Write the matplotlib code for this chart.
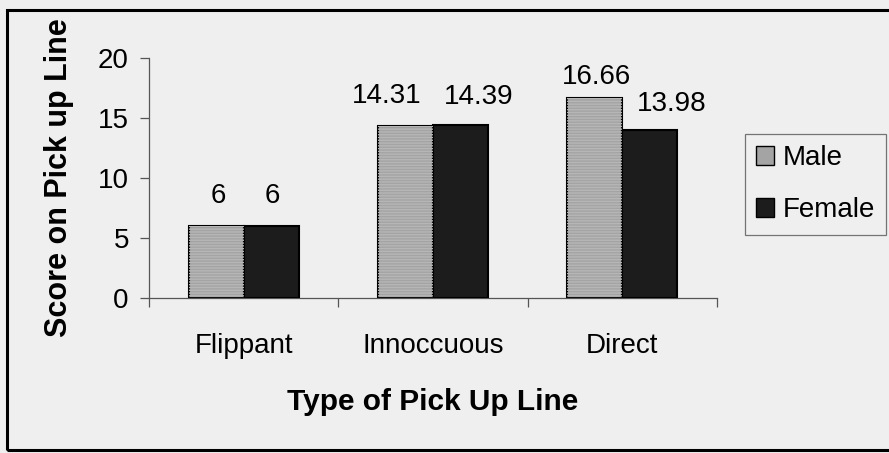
import matplotlib
matplotlib.use("Agg")
import matplotlib.pyplot as plt
from matplotlib.patches import Rectangle, Patch
import numpy as np

plt.rcParams['font.family'] = ['Liberation Sans', 'DejaVu Sans']

categories = ["Flippant", "Innoccuous", "Direct"]
series_names = ["Male", "Female"]
male = [6, 14.31, 16.66]
female = [6, 14.39, 13.98]
male_labels = ["6", "14.31", "16.66"]
female_labels = ["6", "14.39", "13.98"]
y_ticks = [0, 5, 10, 15, 20]

W, H = 889, 453
fig = plt.figure(figsize=(W / 100, H / 100), dpi=100)
bg = '#efefef'
fig.patch.set_facecolor(bg)

# outer frame
fig.patches.append(Rectangle((7 / W, 3 / H), 1.2, 440 / H, transform=fig.transFigure,
                             fill=False, edgecolor='black', linewidth=2.2, zorder=0))

ax = fig.add_axes([149 / W, 155 / H, (717 - 149) / W, (395 - 155) / H])
ax.set_facecolor(bg)

FS = 20
x = np.arange(len(categories))
bw = 0.29
male_c = '#a4a4a4'
fem_c = '#1c1c1c'
ax.bar(x - bw / 2, male, bw, color=male_c, edgecolor='black', linewidth=1.5, zorder=3)
ax.bar(x - bw / 2, male, bw, color='none', edgecolor='#b6b6b6', linewidth=0, hatch='------', zorder=3.5)
ax.bar(x + bw / 2, female, bw, color=fem_c, edgecolor='black', linewidth=1.5, zorder=3)

# value labels (pixel offsets as placed in the original)
male_off = [(2, 23), (-19, 23), (2, 14)]
female_off = [(1, 23), (18, 21), (22, 19)]
px = 0.72
for i in range(len(categories)):
    ax.annotate(male_labels[i], (x[i] - bw / 2, male[i]),
                xytext=(male_off[i][0] * px, male_off[i][1] * px),
                textcoords='offset points', ha='center', va='baseline', fontsize=FS)
    ax.annotate(female_labels[i], (x[i] + bw / 2, female[i]),
                xytext=(female_off[i][0] * px, female_off[i][1] * px),
                textcoords='offset points', ha='center', va='baseline', fontsize=FS)

ax.set_ylim(0, 20)
ax.set_xlim(-0.5, len(categories) - 0.5)
ax.set_yticks(y_ticks)
ax.set_yticklabels([str(t) for t in y_ticks], fontsize=FS)
ax.tick_params(axis='y', length=6.5, width=0.9, color='#555555', pad=8)

ax.set_xticks(x)
ax.set_xticklabels(categories, fontsize=FS)
ax.tick_params(axis='x', length=0, pad=25)
ax.set_xticks(np.arange(len(categories) + 1) - 0.5, minor=True)
ax.tick_params(axis='x', which='minor', length=6.5, width=0.9, color='#555555')

for s in ['top', 'right']:
    ax.spines[s].set_visible(False)
for s in ['left', 'bottom']:
    ax.spines[s].set_color('#555555')
    ax.spines[s].set_linewidth(0.9)

ax.set_ylabel("Score on Pick up Line", fontsize=22, fontweight='bold', labelpad=17)
ax.set_xlabel("Type of Pick Up Line", fontsize=21.5, fontweight='bold', labelpad=21)

handles = [Patch(facecolor=male_c, edgecolor='black', linewidth=1.0),
           Patch(facecolor=fem_c, edgecolor='black', linewidth=1.0)]
leg = fig.legend(handles, series_names, loc='upper left', bbox_to_anchor=(745 / W, 1 - 134 / H),
                 fontsize=FS, frameon=True, fancybox=False, edgecolor='#555555',
                 facecolor=bg, handlelength=0.65, handleheight=0.65, handletextpad=0.3,
                 borderpad=0.4, labelspacing=0.95, borderaxespad=0)
leg.get_frame().set_linewidth(0.9)

fig.savefig("out.png", dpi=100, facecolor=bg)
